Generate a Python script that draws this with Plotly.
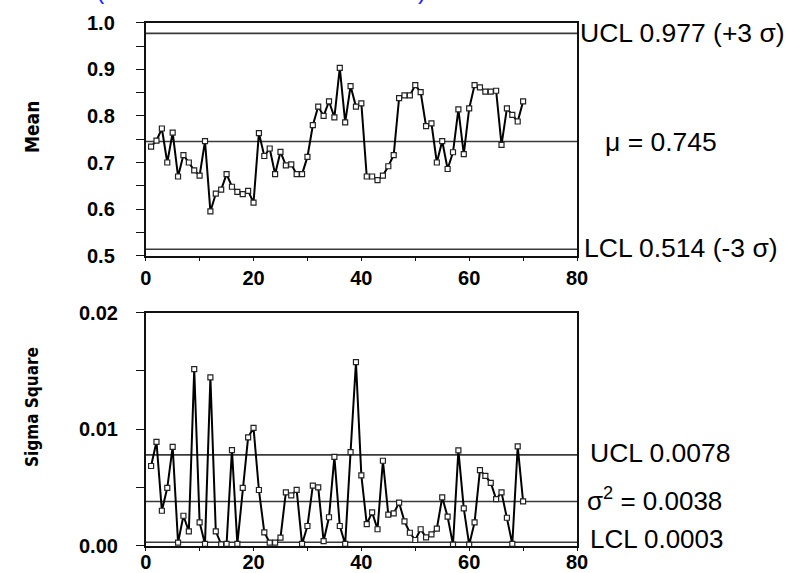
import plotly.graph_objects as go
from plotly.subplots import make_subplots

# ---------------- data ----------------
sample = list(range(1, 71))

mean_values = [
    0.734, 0.747, 0.773, 0.700, 0.764, 0.670, 0.716, 0.700, 0.683, 0.672,
    0.746, 0.595, 0.633, 0.642, 0.675, 0.648, 0.637, 0.632, 0.639, 0.614,
    0.763, 0.714, 0.730, 0.675, 0.723, 0.694, 0.696, 0.675, 0.675, 0.712,
    0.780, 0.820, 0.800, 0.831, 0.797, 0.903, 0.786, 0.864, 0.820, 0.827,
    0.670, 0.670, 0.662, 0.672, 0.692, 0.716, 0.838, 0.844, 0.844, 0.866,
    0.851, 0.778, 0.784, 0.700, 0.746, 0.686, 0.722, 0.814, 0.718, 0.816,
    0.866, 0.861, 0.852, 0.852, 0.854, 0.738, 0.816, 0.802, 0.788, 0.831,
]

var_values = [
    0.00684, 0.00892, 0.00300, 0.00497, 0.00849, 0.00026, 0.00257, 0.00123, 0.01515, 0.00200,
    0.00015, 0.01444, 0.00123, 0.00012, 0.00015, 0.00821, 0.00015, 0.00497, 0.00930, 0.01012,
    0.00478, 0.00115, 0.00026, 0.00026, 0.00069, 0.00458, 0.00432, 0.00480, 0.00015, 0.00169,
    0.00515, 0.00501, 0.00040, 0.00244, 0.00763, 0.00169, 0.00015, 0.00804, 0.01575, 0.00604,
    0.00186, 0.00286, 0.00141, 0.00729, 0.00266, 0.00278, 0.00369, 0.00209, 0.00111, 0.00049,
    0.00141, 0.00072, 0.00098, 0.00146, 0.00415, 0.00249, 0.00009, 0.00818, 0.00321, 0.00009,
    0.00200, 0.00649, 0.00600, 0.00540, 0.00400, 0.00458, 0.00240, 0.00015, 0.00852, 0.00381,
]

mean_limits = {"UCL": 0.977, "mu": 0.745, "LCL": 0.514}
var_limits = {"UCL": 0.0078, "s2": 0.0038, "LCL": 0.0003}

x_ticks = [0, 20, 40, 60, 80]
mean_ticks = [0.5, 0.6, 0.7, 0.8, 0.9, 1.0]
mean_ticktext = ["0.5", "0.6", "0.7", "0.8", "0.9", "1.0"]
var_ticks = [0.00, 0.01, 0.02]
var_ticktext = ["0.00", "0.01", "0.02"]

# ---------------- figure ----------------
W, H = 788, 573
FONT = "Liberation Sans, Arial, Helvetica, sans-serif"
NARROW = "Liberation Sans Narrow, Arial Narrow, DejaVu Sans Condensed, sans-serif"
TICKFONT = dict(family=FONT, size=20, color="black", weight="bold")

fig = make_subplots(rows=2, cols=1)

xdom = [145.7 / W, 577.0 / W]
top_dom = [1 - 255.7 / H, 1 - 22.7 / H]
bot_dom = [1 - 545.7 / H, 1 - 312.7 / H]

line_style = dict(color="black", width=2)
marker_style = dict(symbol="square", size=5, color="white",
                    line=dict(color="#222", width=1.2))

fig.add_trace(go.Scatter(x=sample, y=mean_values, mode="lines+markers",
                         line=line_style, marker=marker_style, showlegend=False,
                         cliponaxis=False), row=1, col=1)
fig.add_trace(go.Scatter(x=sample, y=var_values, mode="lines+markers",
                         line=line_style, marker=marker_style, showlegend=False,
                         cliponaxis=False), row=2, col=1)

# control lines
for v in mean_limits.values():
    fig.add_shape(type="line", xref="x", yref="y", x0=0, x1=80, y0=v, y1=v,
                  line=dict(color="#3a3a3a", width=1.6), layer="below")
for v in var_limits.values():
    fig.add_shape(type="line", xref="x2", yref="y2", x0=0, x1=80, y0=v, y1=v,
                  line=dict(color="#3a3a3a", width=1.6), layer="below")

axis_common = dict(showgrid=False, zeroline=False, showline=True, linecolor="#111",
                   linewidth=1.6, mirror=True, ticks="outside", tickcolor="#111",
                   automargin=False, tickfont=TICKFONT)

fig.update_xaxes(row=1, col=1, range=[0, 80], domain=xdom, tickvals=x_ticks, ticklen=3,
                 minor=dict(dtick=10, tick0=0, ticks="outside", ticklen=3, tickcolor="#111"),
                 ticklabelstandoff=0, **axis_common)
fig.update_xaxes(row=2, col=1, range=[0, 80], domain=xdom, tickvals=x_ticks, ticklen=3,
                 minor=dict(dtick=10, tick0=0, ticks="outside", ticklen=3, tickcolor="#111"),
                 ticklabelstandoff=-6, **axis_common)
fig.update_yaxes(row=1, col=1, range=[0.5, 1.0], domain=top_dom, tickvals=mean_ticks,
                 showticklabels=False, ticklen=8,
                 minor=dict(dtick=0.05, tick0=0.5, ticks="outside", ticklen=8, tickcolor="#111"),
                 **axis_common)
fig.update_yaxes(row=2, col=1, range=[0, 0.02], domain=bot_dom, tickvals=var_ticks,
                 ticktext=var_ticktext, ticklen=8,
                 minor=dict(dtick=0.005, tick0=0, ticks="outside", ticklen=8, tickcolor="#111"),
                 ticklabelstandoff=14, **axis_common)

# upper panel tick labels, placed on the y axis scale
for v, t in zip(mean_ticks, mean_ticktext):
    fig.add_annotation(text=t, x=117 / W, xref="paper", y=v, yref="y",
                       xanchor="right", yanchor="middle", showarrow=False, font=TICKFONT)

def px_x(p):
    return p / W

anns = [
    dict(text="UCL 0.977 (+3 σ)", x=px_x(578), xref="paper", y=0.978, yref="y", size=26.5),
    dict(text="μ = 0.745", x=px_x(603), xref="paper", y=0.745, yref="y", size=26.5),
    dict(text="LCL 0.514 (-3 σ)", x=px_x(582), xref="paper", y=0.5176, yref="y", size=26.5),
    dict(text="UCL 0.0078", x=px_x(588), xref="paper", y=0.00795, yref="y2", size=26.5),
    dict(text="σ<sup>2</sup> = 0.0038", x=px_x(585), xref="paper", y=0.00395, yref="y2", size=26),
    dict(text="LCL 0.0003", x=px_x(588), xref="paper", y=0.00057, yref="y2", size=26),
]
for a in anns:
    sz = a.pop("size")
    fig.add_annotation(showarrow=False, xanchor="left", yanchor="middle",
                       font=dict(family=FONT, size=sz, color="black"), **a)

# axis titles
fig.add_annotation(text="Mean", x=32 / W, y=1 - 127 / H, xref="paper", yref="paper",
                   textangle=-90, showarrow=False, xanchor="center", yanchor="middle",
                   font=dict(family=NARROW, size=19, color="black", weight="bold"))
fig.add_annotation(text="Sigma Square", x=32 / W, y=1 - 407 / H, xref="paper", yref="paper",
                   textangle=-90, showarrow=False, xanchor="center", yanchor="middle",
                   font=dict(family=NARROW, size=17, color="black", weight="bold"))

# cut-off blue heading (only bottom of parentheses visible)
for txt, xp in [("(", 100), (")", 422)]:
    fig.add_annotation(text=txt, x=xp / W, y=1 - 5.5 / H, xref="paper", yref="paper",
                       showarrow=False, xanchor="center", yanchor="bottom",
                       font=dict(family=FONT, size=25, color="#1f1fff"))

fig.update_layout(width=W, height=H, margin=dict(l=0, r=0, t=0, b=0, autoexpand=False),
                  paper_bgcolor="white", plot_bgcolor="white")

fig.write_html("out.html")
